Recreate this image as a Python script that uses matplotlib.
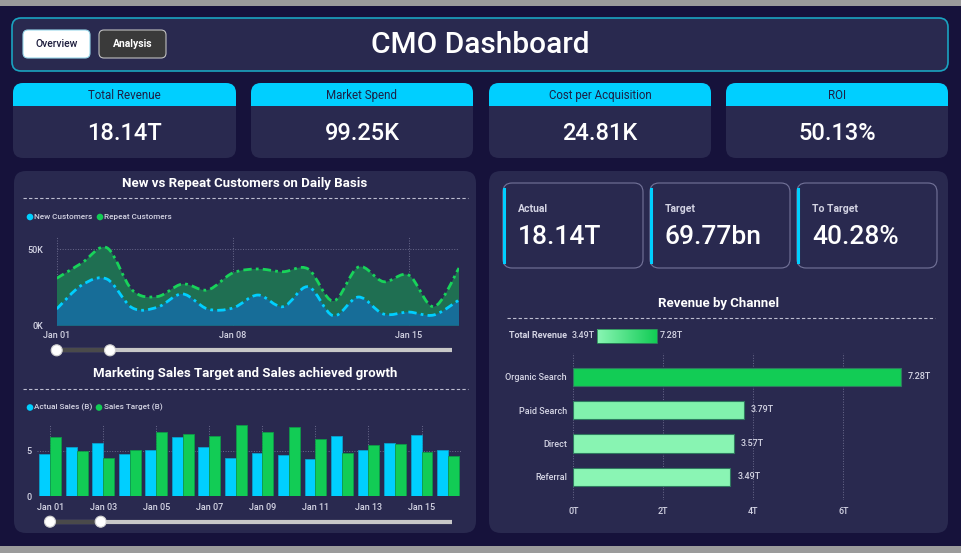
import numpy as np
import matplotlib.pyplot as plt
from matplotlib.patches import FancyBboxPatch, Rectangle, Circle, PathPatch
from matplotlib.path import Path
from matplotlib.colors import LinearSegmentedColormap, Normalize

plt.rcParams['font.family'] = ['Roboto', 'DejaVu Sans']
plt.rcParams['font.weight'] = 'medium'

# ---- data ----
kpi_names = ['Total Revenue', 'Market Spend', 'Cost per Acquisition', 'ROI']
kpi_values = ['18.14T', '99.25K', '24.81K', '50.13%']

target_names = ['Actual', 'Target', 'To Target']
target_values = ['18.14T', '69.77bn', '40.28%']

# daily customers, thousands (Jan 01 .. Jan 17)
new_customers = [10.9, 26.5, 30.4, 11.7, 12.0, 20.7, 10.9, 11.5, 20.0, 12.4, 25.4, 6.5, 18.7, 7.6, 8.9, 7.0, 16.8]
repeat_customers = [20.0, 14.4, 20.4, 11.6, 7.0, 6.5, 12.4, 22.9, 17.0, 22.8, 11.6, 9.6, 19.6, 21.1, 24.1, 5.4, 20.8]
area_ticks = ['Jan 01', 'Jan 08', 'Jan 15']

# sales (B), Jan 01 .. Jan 16
actual_sales = [4.63, 5.48, 5.85, 4.70, 5.15, 6.56, 5.41, 4.26, 4.81, 4.59, 4.11, 6.63, 5.11, 5.89, 6.78, 5.07]
sales_target = [6.52, 4.96, 4.19, 5.11, 7.11, 6.89, 6.70, 7.85, 7.07, 7.67, 6.33, 4.81, 5.67, 5.81, 4.85, 4.44]
bar_days = ['Jan %02d' % d for d in range(1, 17)]

channels = ['Organic Search', 'Paid Search', 'Direct', 'Referral']
channel_revenue = [7.28, 3.79, 3.57, 3.49]

# ---- colours ----
BG = '#16123b'
PANEL = '#29294f'
CYAN = '#00cfff'
GREEN = '#12cc55'
LIGHT = '#d4d4e4'
GRID = '#6a6a8c'

W, H = 961, 553
fig = plt.figure(figsize=(W / 100, H / 100), dpi=100)
fig.patch.set_facecolor(BG)
bg = fig.add_axes([0, 0, 1, 1])
bg.set_xlim(0, W)
bg.set_ylim(H, 0)
bg.axis('off')


def rbox(x0, y0, x1, y1, r, fc, ec='none', lw=0, z=1):
    bg.add_patch(FancyBboxPatch((x0, y0), x1 - x0, y1 - y0,
                                boxstyle='round,pad=0,rounding_size=%s' % r,
                                fc=fc, ec=ec, lw=lw, zorder=z))


def px_axes(x0, y0, x1, y1):
    a = fig.add_axes([x0 / W, 1 - y1 / H, (x1 - x0) / W, (y1 - y0) / H])
    a.set_facecolor('none')
    for s in a.spines.values():
        s.set_visible(False)
    a.tick_params(length=0, colors=LIGHT, labelsize=6.5)
    return a


def smooth_path(xs, ys, base=None):
    # cubic bezier through the points (catmull-rom tangents)
    pts = np.column_stack([xs, ys]).astype(float)
    n = len(pts)
    verts, codes = [], []
    if base is not None:
        verts.append((pts[0, 0], base)); codes.append(Path.MOVETO)
        verts.append(tuple(pts[0])); codes.append(Path.LINETO)
    else:
        verts.append(tuple(pts[0])); codes.append(Path.MOVETO)
    for i in range(n - 1):
        p0 = pts[max(i - 1, 0)]
        p1 = pts[i]
        p2 = pts[i + 1]
        p3 = pts[min(i + 2, n - 1)]
        c1 = p1 + (p2 - p0) / 6
        c2 = p2 - (p3 - p1) / 6
        verts += [tuple(c1), tuple(c2), tuple(p2)]
        codes += [Path.CURVE4] * 3
    if base is not None:
        verts.append((pts[-1, 0], base)); codes.append(Path.LINETO)
        verts.append((pts[0, 0], base)); codes.append(Path.CLOSEPOLY)
    return Path(verts, codes)


# top / bottom strips
bg.add_patch(Rectangle((0, 0), W, 6, fc='#9b9b9b', ec='none'))
bg.add_patch(Rectangle((0, 546), W, 7, fc='#9b9b9b', ec='none'))

# header
rbox(12, 18, 948, 71, 9, PANEL, ec='#1aa3c0', lw=1.2)
rbox(23, 30, 90, 58, 5, 'white', ec='#9ad8ea', lw=0.8, z=2)
bg.text(56.5, 44, 'Overview', ha='center', va='center', fontsize=7.5, color='#1d1d3d', zorder=3)
rbox(99, 30, 166, 58, 5, '#3a3a3a', ec='#c0c0c0', lw=0.8, z=2)
bg.text(132.5, 44, 'Analysis', ha='center', va='center', fontsize=7.5, color='white',
        fontweight='bold', zorder=3)
bg.text(480, 45, 'CMO Dashboard', ha='center', va='center', fontsize=21.5, color='white')

# KPI cards
card_x = [(13, 236), (251, 473), (489, 711), (726, 948)]
for (x0, x1), name, val in zip(card_x, kpi_names, kpi_values):
    rbox(x0, 83, x1, 158, 10, PANEL)
    rbox(x0, 83, x1, 106, 10, CYAN, z=2)
    bg.add_patch(Rectangle((x0, 95), x1 - x0, 11, fc=CYAN, ec='none', zorder=2))
    bg.text((x0 + x1) / 2, 95.5, name, ha='center', va='center', fontsize=8.3,
            color='#1d2045', fontweight='normal', zorder=3)
    bg.text((x0 + x1) / 2, 133, val, ha='center', va='center', fontsize=17, color='white')

# panels
rbox(14, 171, 476, 533, 12, PANEL)
rbox(489, 171, 948, 533, 12, PANEL)

# left panel titles
bg.text(245, 183, 'New vs Repeat Customers on Daily Basis', ha='center', va='center',
        fontsize=9.5, fontweight='bold', color='white')
bg.plot([23, 468], [198, 198], color='#bdbdd0', lw=0.8, ls=(0, (3, 2)))
bg.text(245, 373, 'Marketing Sales Target and Sales achieved growth', ha='center', va='center',
        fontsize=9.5, fontweight='bold', color='white')
bg.plot([23, 468], [388.5, 388.5], color='#bdbdd0', lw=0.8, ls=(0, (3, 2)))

# legends
for cx, col, lab, y in [(30, CYAN, 'New Customers', 217), (100, GREEN, 'Repeat Customers', 217),
                        (30, CYAN, 'Actual Sales (B)', 407.5), (99, GREEN, 'Sales Target (B)', 407.5)]:
    bg.add_patch(Circle((cx, y), 3.3, fc=col, ec='none'))
    bg.text(cx + 4.5, y, lab, ha='left', va='center', fontsize=5.9, color=LIGHT)

# sliders
for y, xa, xb, xe in [(350.3, 56.7, 110, 451.7), (521.7, 50, 100.7, 451.7)]:
    bg.plot([xa, xe], [y, y], color='#c8c8c8', lw=3, solid_capstyle='butt')
    bg.plot([xa, xb], [y, y], color='#4a4a4a', lw=3, solid_capstyle='butt')
    for cx in (xa, xb):
        bg.add_patch(Circle((cx, y), 5.5, fc='white', ec='#d0d0d0', lw=0.8, zorder=4))

# ---- area chart ----
ax1 = px_axes(56.7, 236, 459, 325.7)
days = np.arange(len(new_customers))
total = np.array(new_customers) + np.array(repeat_customers)
ax1.add_patch(PathPatch(smooth_path(days, total, base=0), fc='#1f6f52', ec='none', zorder=2))
ax1.add_patch(PathPatch(smooth_path(days, new_customers, base=0), fc='#176d98', ec='none', zorder=3))
ax1.add_patch(PathPatch(smooth_path(days, total), fill=False, ec='#18d35a', lw=2,
                        ls=(0, (3, 1.5, 1, 1.5)), zorder=4))
ax1.add_patch(PathPatch(smooth_path(days, new_customers), fill=False, ec=CYAN, lw=2,
                        ls=(0, (3, 1.5, 1, 1.5)), zorder=5))
ax1.set_xlim(0, len(days) - 1)
ax1.set_ylim(0, 58.5)
ax1.set_xticks([0, 7, 14])
ax1.set_xticklabels(area_ticks)
ax1.set_yticks([0, 50])
ax1.set_yticklabels(['0K', '50K'])
ax1.tick_params(axis='y', pad=10)
ax1.tick_params(axis='x', pad=4)
ax1.grid(True, color=GRID, lw=0.7, ls=':')
ax1.set_axisbelow(True)

# ---- bar chart ----
ax2 = px_axes(37, 424, 461.3, 496)
xb = np.arange(len(actual_sales))
ax2.bar(xb - 0.205, actual_sales, width=0.41, color=CYAN, edgecolor='#0a9fcc', lw=0.6, zorder=3)
ax2.bar(xb + 0.205, sales_target, width=0.41, color=GREEN, edgecolor='#0e9a48', lw=0.6, zorder=3)
ax2.set_xlim(-0.5, len(xb) - 0.5)
ax2.set_ylim(0, 8)
ax2.set_xticks(xb[::2])
ax2.set_xticklabels(bar_days[::2])
ax2.set_yticks([0, 5])
ax2.tick_params(axis='y', pad=4)
ax2.tick_params(axis='x', pad=5)
ax2.grid(True, color=GRID, lw=0.7, ls=':')
ax2.set_axisbelow(True)

# ---- right panel cards ----
for (x0, x1), name, val in zip([(503, 643), (650, 790), (797, 937)], target_names, target_values):
    rbox(x0, 183, x1, 268, 9, PANEL, ec='#74749a', lw=0.8, z=2)
    bg.plot([x0 + 1.2, x0 + 1.2], [189, 262], color=CYAN, lw=2.2, zorder=3)
    bg.text(x0 + 15, 209.5, name, ha='left', va='center', fontsize=7.5, color=LIGHT,
            fontweight='bold', zorder=3)
    bg.text(x0 + 15, 237, val, ha='left', va='center', fontsize=19, color='white', zorder=3)

bg.text(718, 303, 'Revenue by Channel', ha='center', va='center', fontsize=9.5,
        fontweight='bold', color='white')
bg.plot([507, 935], [318.3, 318.3], color='#bdbdd0', lw=0.8, ls=(0, (3, 2)))

# colour scale legend
cmap = LinearSegmentedColormap.from_list('rev', ['#8af5b4', GREEN])
norm = Normalize(min(channel_revenue), max(channel_revenue))
bg.text(567, 336, 'Total Revenue', ha='right', va='center', fontsize=6.5, color=LIGHT,
        fontweight='bold')
bg.text(572, 336, '%.2fT' % min(channel_revenue), ha='left', va='center', fontsize=6.5, color=LIGHT)
bg.imshow(np.linspace(0, 1, 100)[None, :], cmap=cmap, extent=[596.7, 656.7, 343, 329],
          aspect='auto', zorder=3)
bg.add_patch(Rectangle((596.7, 329), 60, 14, fill=False, ec='#2b8a58', lw=0.6, zorder=4))
bg.text(660, 336, '%.2fT' % max(channel_revenue), ha='left', va='center', fontsize=6.5, color=LIGHT)
bg.set_xlim(0, W)
bg.set_ylim(H, 0)

# ---- revenue by channel ----
ax3 = px_axes(573.3, 353, 933.3, 500)
yc = np.arange(len(channels))
ax3.barh(yc, channel_revenue, height=0.55, color=cmap(norm(channel_revenue)),
         edgecolor='#2f7a60', lw=0.8, zorder=3)
for y, v in zip(yc, channel_revenue):
    ax3.annotate('%.2fT' % v, (v, y), xytext=(5, 0), textcoords='offset points',
                 ha='left', va='center', fontsize=6.5, color=LIGHT)
ax3.set_xlim(0, 8)
ax3.set_ylim(3.7, -0.71)
ax3.set_yticks(yc)
ax3.set_yticklabels(channels)
ax3.set_xticks([0, 2, 4, 6])
ax3.set_xticklabels(['0T', '2T', '4T', '6T'])
ax3.tick_params(axis='y', pad=4.5)
ax3.tick_params(axis='x', pad=5)
ax3.grid(True, axis='x', color=GRID, lw=0.7, ls=':')
ax3.set_axisbelow(True)

fig.savefig('out.png', dpi=100, facecolor=BG)
